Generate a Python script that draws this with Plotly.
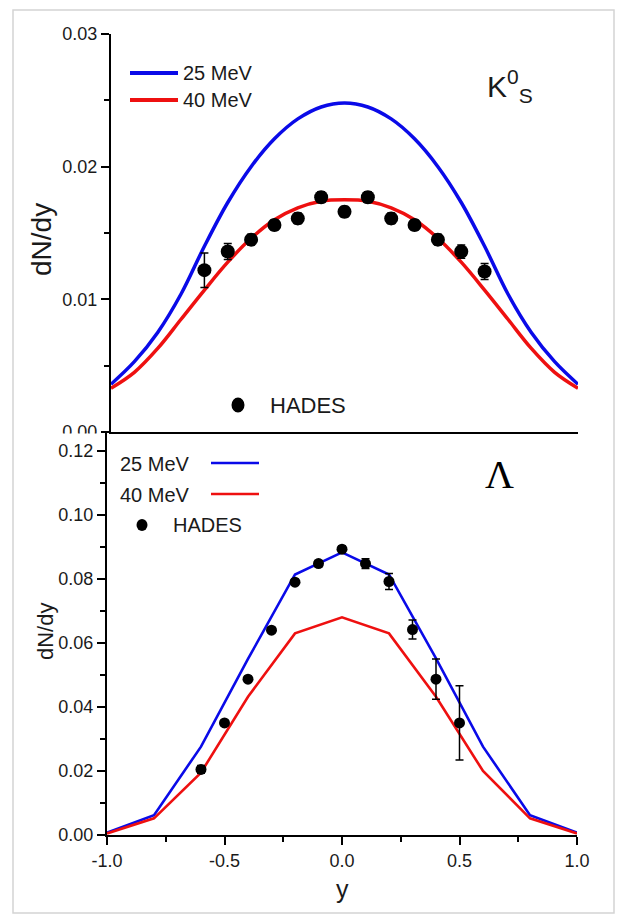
import plotly.graph_objects as go

# ---------------- data ----------------
# top panel (K0S)
k_y = [-1.0, -0.9, -0.8, -0.7, -0.6, -0.5, -0.4, -0.3, -0.2, -0.1, 0.0,
       0.1, 0.2, 0.3, 0.4, 0.5, 0.6, 0.7, 0.8, 0.9, 1.0]
k_25 = [0.0036, 0.0053, 0.0075, 0.0104, 0.0140, 0.0173, 0.0200, 0.0221, 0.0236, 0.0245, 0.0248,
        0.0245, 0.0236, 0.0221, 0.0200, 0.0173, 0.0140, 0.0104, 0.0075, 0.0053, 0.0036]
k_40 = [0.0033, 0.0045, 0.0063, 0.0085, 0.0107, 0.0128, 0.0146, 0.0160, 0.0169, 0.0174, 0.0175,
        0.0174, 0.0169, 0.0160, 0.0146, 0.0128, 0.0107, 0.0085, 0.0063, 0.0045, 0.0033]
k_hades_y = [-0.6, -0.5, -0.4, -0.3, -0.2, -0.1, 0.0, 0.1, 0.2, 0.3, 0.4, 0.5, 0.6]
k_hades = [0.0122, 0.0136, 0.0145, 0.0156, 0.0161, 0.0177, 0.0166, 0.0177, 0.0161, 0.0156, 0.0145, 0.0136, 0.0121]
k_hades_err = [0.0013, 0.0006, 0.0004, 0.0004, 0.0004, 0.0004, 0.0004, 0.0004, 0.0004, 0.0004, 0.0004, 0.0005, 0.0006]

# bottom panel (Lambda)
l_y = [-1.0, -0.8, -0.6, -0.4, -0.2, 0.0, 0.2, 0.4, 0.6, 0.8, 1.0]
l_25 = [0.0007, 0.0062, 0.0276, 0.0550, 0.0814, 0.0883, 0.0814, 0.0552, 0.0276, 0.0062, 0.0007]
l_40 = [0.0005, 0.0052, 0.0195, 0.0432, 0.0630, 0.0680, 0.0630, 0.0432, 0.0200, 0.0052, 0.0005]
l_hades_y = [-0.6, -0.5, -0.4, -0.3, -0.2, -0.1, 0.0, 0.1, 0.2, 0.3, 0.4, 0.5]
l_hades = [0.0205, 0.0350, 0.0487, 0.0640, 0.0790, 0.0848, 0.0893, 0.0848, 0.0792, 0.0642, 0.0487, 0.0350]
l_hades_err = [0.0012, 0.0008, 0.0008, 0.0008, 0.0008, 0.0010, 0.0010, 0.0015, 0.0025, 0.0030, 0.0063, 0.0116]

x_tickvals = [-1.0, -0.5, 0.0, 0.5, 1.0]
x_ticktext = ["-1.0", "-0.5", "0.0", "0.5", "1.0"]
legend_labels = ["25 MeV", "40 MeV", "HADES"]

BLUE = "#0a0ae8"
RED = "#ee1010"
FONT = "Arial, Liberation Sans, sans-serif"

W, H = 619, 914
def X(px):
    return px / W
def Y(py):
    return 1 - py / H

fig = go.Figure()

# top panel traces
fig.add_trace(go.Scatter(x=k_y, y=k_25, mode="lines", line=dict(color=BLUE, width=3.5, shape="spline"),
                         xaxis="x", yaxis="y", showlegend=False))
fig.add_trace(go.Scatter(x=k_y, y=k_40, mode="lines", line=dict(color=RED, width=3.5, shape="spline"),
                         xaxis="x", yaxis="y", showlegend=False))
fig.add_trace(go.Scatter(x=k_hades_y, y=k_hades, mode="markers",
                         marker=dict(color="black", size=14),
                         error_y=dict(type="data", array=k_hades_err, color="black", thickness=1.5, width=4),
                         xaxis="x", yaxis="y", showlegend=False))

# bottom panel traces
fig.add_trace(go.Scatter(x=l_y, y=l_25, mode="lines", line=dict(color=BLUE, width=2.6),
                         xaxis="x2", yaxis="y2", showlegend=False))
fig.add_trace(go.Scatter(x=l_y, y=l_40, mode="lines", line=dict(color=RED, width=2.6),
                         xaxis="x2", yaxis="y2", showlegend=False))
fig.add_trace(go.Scatter(x=l_hades_y, y=l_hades, mode="markers",
                         marker=dict(color="black", size=11),
                         error_y=dict(type="data", array=l_hades_err, color="black", thickness=1.5, width=4),
                         xaxis="x2", yaxis="y2", showlegend=False))

axis_common = dict(showgrid=False, zeroline=False, showline=True, linecolor="black", linewidth=2,
                   tickcolor="black", tickwidth=1.5, automargin=False,
                   tickfont=dict(family=FONT, size=18, color="#1a1a1a"))

top_xdom = [X(111), X(578)]
top_ydom = [Y(432), Y(34)]
bot_xdom = [X(107), X(577)]
bot_ydom = [Y(835), Y(433)]

fig.update_layout(
    template="none",
    width=W, height=H, margin=dict(l=0, r=0, t=0, b=0, pad=0, autoexpand=False),
    paper_bgcolor="white", plot_bgcolor="rgba(0,0,0,0)", showlegend=False,
    # top panel
    xaxis=dict(axis_common, domain=top_xdom, range=[-1, 1], anchor="y", ticks="", showticklabels=False),
    yaxis=dict(axis_common, domain=top_ydom, range=[0, 0.03], anchor="x", ticks="outside", ticklen=8,
               dtick=0.01, tickformat=".2f",
               minor=dict(ticks="outside", ticklen=5, dtick=0.005, tickcolor="black", tickwidth=1.5)),
    xaxis3=dict(axis_common, overlaying="x", side="top", anchor="y", range=[-1, 1], ticks="inside",
                ticklen=8, dtick=0.5, showticklabels=False,
                minor=dict(ticks="inside", ticklen=5, dtick=0.25, tickcolor="black", tickwidth=1.5)),
    yaxis3=dict(axis_common, overlaying="y", side="right", anchor="x", range=[0, 0.03], ticks="inside",
                ticklen=7, dtick=0.005, showticklabels=False),
    # bottom panel
    xaxis2=dict(axis_common, domain=bot_xdom, range=[-1, 1], anchor="y2", ticks="outside", ticklen=8,
                tickvals=x_tickvals, ticktext=x_ticktext,
                minor=dict(ticks="outside", ticklen=5, dtick=0.25, tickcolor="black", tickwidth=1.5)),
    yaxis2=dict(axis_common, domain=bot_ydom, range=[0, 0.1256], anchor="x2", ticks="outside", ticklen=8,
                dtick=0.02, tickformat=".2f",
                minor=dict(ticks="outside", ticklen=5, dtick=0.01, tickcolor="black", tickwidth=1.5)),
    xaxis4=dict(axis_common, overlaying="x2", side="top", anchor="y2", range=[-1, 1], ticks="inside",
                ticklen=8, dtick=0.5, showticklabels=False,
                minor=dict(ticks="inside", ticklen=5, dtick=0.25, tickcolor="black", tickwidth=1.5)),
    yaxis4=dict(axis_common, overlaying="y2", side="right", anchor="x2", range=[0, 0.1256], ticks="inside",
                ticklen=7, dtick=0.01, showticklabels=False),
)

shapes = []
annotations = []

# outer light frame
shapes.append(dict(type="rect", xref="paper", yref="paper", x0=X(13), x1=X(614), y0=Y(913), y1=Y(10),
                   line=dict(color="#d4d4d4", width=1.5), fillcolor="rgba(0,0,0,0)", layer="below"))
# bottom panel covers lower half of top panel's 0.00 label
shapes.append(dict(type="rect", xref="paper", yref="paper", x0=X(45), x1=X(103), y0=Y(441), y1=Y(433.5),
                   line=dict(width=0), fillcolor="white", layer="above"))

def txt(px, py, s, size, anchor="left", family=FONT, angle=0, color="#1a1a1a"):
    annotations.append(dict(x=X(px), y=Y(py), xref="paper", yref="paper", text=s, showarrow=False,
                            xanchor=anchor, yanchor="middle", textangle=angle,
                            font=dict(family=family, size=size, color=color)))

# top legend
shapes.append(dict(type="line", xref="paper", yref="paper", x0=X(130), x1=X(178), y0=Y(73), y1=Y(73),
                   line=dict(color=BLUE, width=4)))
shapes.append(dict(type="line", xref="paper", yref="paper", x0=X(130), x1=X(178), y0=Y(100), y1=Y(100),
                   line=dict(color=RED, width=4)))
txt(181, 73, legend_labels[0], 20)
txt(181, 100, legend_labels[1], 20)
shapes.append(dict(type="circle", xref="paper", yref="paper", x0=X(231.5), x1=X(244.5), y0=Y(412.5), y1=Y(397.5),
                   fillcolor="black", line=dict(color="black", width=0)))
txt(268, 405, legend_labels[2], 22)
txt(510, 86, "K<sup>0</sup><sub>S</sub>", 30, anchor="center")

# bottom legend
txt(118, 464, legend_labels[0], 20)
txt(118, 495, legend_labels[1], 20)
shapes.append(dict(type="line", xref="paper", yref="paper", x0=X(211), x1=X(259), y0=Y(463), y1=Y(463),
                   line=dict(color=BLUE, width=2.6)))
shapes.append(dict(type="line", xref="paper", yref="paper", x0=X(211), x1=X(259), y0=Y(494), y1=Y(494),
                   line=dict(color=RED, width=2.6)))
shapes.append(dict(type="circle", xref="paper", yref="paper", x0=X(136.5), x1=X(147.5), y0=Y(531), y1=Y(519),
                   fillcolor="black", line=dict(color="black", width=0)))
txt(171, 525, legend_labels[2], 20)
txt(500, 474, "Λ", 40, anchor="center", family="Liberation Serif, Times New Roman, serif", color="black")

# axis titles
txt(41, 240, "dN/dy", 28, anchor="center", angle=-90)
txt(45, 632, "dN/dy", 22, anchor="center", angle=-90)
txt(342, 889, "y", 25, anchor="center")

fig.update_layout(shapes=shapes, annotations=annotations)

fig.write_html("out.html")
